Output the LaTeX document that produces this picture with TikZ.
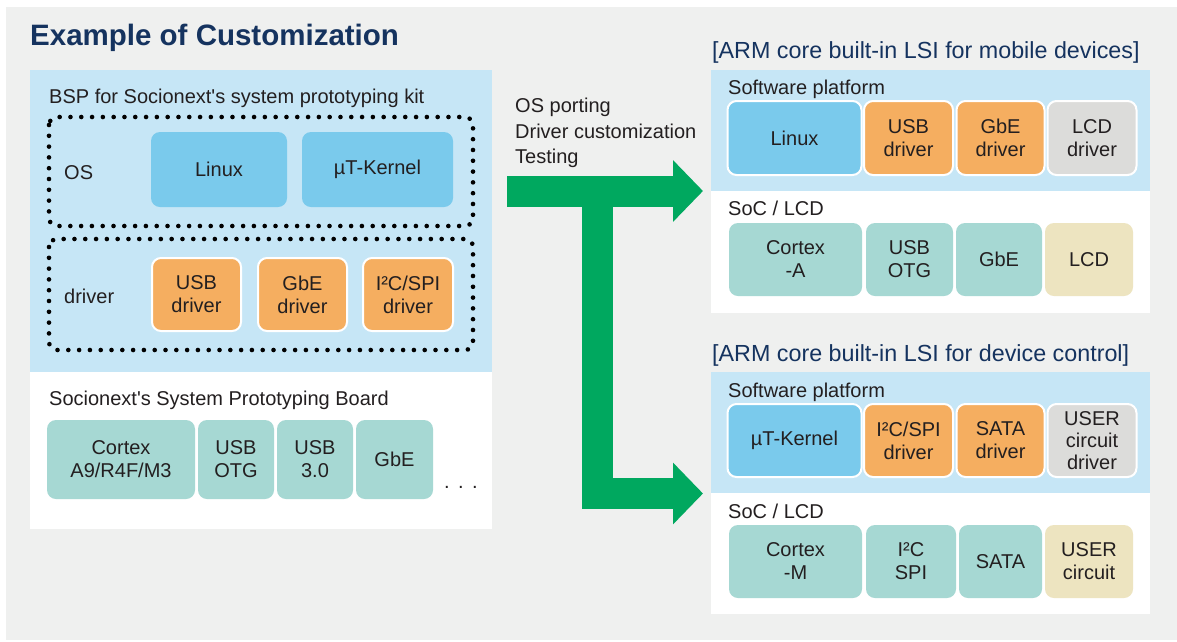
\documentclass[tikz,border=0pt]{standalone}
\usepackage{fontspec}
\setmainfont{Liberation Sans}
\usetikzlibrary{arrows.meta}
\definecolor{bggrey}{HTML}{EFF0EF}
\definecolor{lblue}{HTML}{C6E6F6}
\definecolor{sky}{HTML}{7ACAEC}
\definecolor{orng}{HTML}{F5AE60}
\definecolor{lgrey}{HTML}{DCDCDA}
\definecolor{tealb}{HTML}{A6D8D3}
\definecolor{cream}{HTML}{EDE4C0}
\definecolor{grn}{HTML}{00A85F}
\definecolor{navy}{HTML}{15335F}
\definecolor{txt}{HTML}{231F20}
\newcommand{\apos}{\textquotesingle}
\begin{document}
\begin{tikzpicture}[x=1pt,y=-1pt,
  lbl/.style={anchor=base west, inner sep=0pt, text=txt, font=\fontsize{20}{24}\selectfont},
  ttl/.style={anchor=base west, inner sep=0pt, text=navy, font=\fontsize{23.3}{26}\selectfont},
  box/.style={rounded corners=9pt, align=center, inner sep=0pt, text=txt, font=\fontsize{20}{23}\selectfont},
  sw/.style={box, draw=white, line width=2pt},
  hw/.style={box, draw=none},
  dotbox/.style={draw=black, line width=4.6pt, line cap=round, dash pattern=on 0pt off 10.8pt, rounded corners=8pt},
  garrow/.style={draw=grn, line width=31pt, -{Triangle[length=30pt,width=60pt]}},
]
\useasboundingbox (0,0) rectangle (1177,641);
\fill[white] (0,0) rectangle (1177,641);
\fill[bggrey] (6,7) rectangle (1177,640);

% title
\node[anchor=base west, inner sep=0pt, text=navy, font=\fontsize{29.5}{34}\selectfont\bfseries] (title) at (30,45) {Example of Customization};

% left panel
\fill[lblue] (30,70) rectangle (492,372);
\fill[white] (30,372) rectangle (492,529);
\node[lbl] (bsp) at (49,103) {BSP for Socionext\apos s system prototyping kit};
\draw[dotbox] (49,117) rectangle (473,226);
\draw[dotbox] (49,239) rectangle (473,350);
\node[lbl] (os) at (64,179) {OS};
\node[lbl] (drv) at (64,303) {driver};
\node[hw, fill=sky, minimum width=136pt, minimum height=75pt] (lLinux) at (219,169.5) {Linux};
\node[hw, fill=sky, minimum width=151pt, minimum height=75pt] (lKernel) at (377.5,169.5) {µT-Kernel};
\node[sw, fill=orng, minimum width=89pt, minimum height=73pt] (lUSBd) at (196.5,294.5) {USB\\driver};
\node[sw, fill=orng, minimum width=89pt, minimum height=73pt] (lGbEd) at (302.5,294.5) {GbE\\driver};
\node[sw, fill=orng, minimum width=90pt, minimum height=73pt] (lI2Cd) at (408,294.5) {I²C/SPI\\driver};
\node[lbl] (board) at (49,405) {Socionext\apos s System Prototyping Board};
\node[hw, fill=tealb, minimum width=148pt, minimum height=79pt] (lCortex) at (121,459.5) {Cortex\\A9/R4F/M3};
\node[hw, fill=tealb, minimum width=76pt, minimum height=79pt] (lOTG) at (236,459.5) {USB\\OTG};
\node[hw, fill=tealb, minimum width=76pt, minimum height=79pt] (lUSB3) at (315,459.5) {USB\\3.0};
\node[hw, fill=tealb, minimum width=77pt, minimum height=79pt] (lGbE) at (394.5,459.5) {GbE};
\node[lbl] (dots) at (444,488) {.\hspace{8.4pt}.\hspace{8.4pt}.};

% middle text
\node[lbl] (t1) at (515,112) {OS porting};
\node[lbl] (t2) at (515,138) {Driver customization};
\node[lbl] (t3) at (515,163) {Testing};

% right top
\node[ttl] (rt1) at (712,58) {[ARM core built-in LSI for mobile devices]};
\fill[lblue] (711,70) rectangle (1150,191);
\fill[white] (711,191) rectangle (1150,313);
\node[lbl] (sp1) at (728,94) {Software platform};
\node[lbl] (soc1) at (728,215) {SoC / LCD};
\node[sw, fill=sky, minimum width=134pt, minimum height=74pt] (aLinux) at (794.5,138) {Linux};
\node[sw, fill=orng, minimum width=89pt, minimum height=74pt] (aUSBd) at (908.5,138) {USB\\driver};
\node[sw, fill=orng, minimum width=88pt, minimum height=74pt] (aGbEd) at (1000.5,138) {GbE\\driver};
\node[sw, fill=lgrey, minimum width=89pt, minimum height=74pt] (aLCDd) at (1092,138) {LCD\\driver};
\node[hw, fill=tealb, minimum width=133pt, minimum height=73pt] (aCortex) at (795.5,259.5) {Cortex\\-A};
\node[hw, fill=tealb, minimum width=87pt, minimum height=73pt] (aOTG) at (909.5,259.5) {USB\\OTG};
\node[hw, fill=tealb, minimum width=86pt, minimum height=73pt] (aGbE) at (999,259.5) {GbE};
\node[hw, fill=cream, minimum width=88pt, minimum height=73pt] (aLCD) at (1089,259.5) {LCD};

% right bottom
\node[ttl] (rt2) at (712,361) {[ARM core built-in LSI for device control]};
\fill[lblue] (711,372) rectangle (1150,493);
\fill[white] (711,493) rectangle (1150,614);
\node[lbl] (sp2) at (728,397) {Software platform};
\node[lbl] (soc2) at (728,518) {SoC / LCD};
\node[sw, fill=sky, minimum width=134pt, minimum height=73pt] (bKernel) at (794.5,440.5) {µT-Kernel};
\node[sw, fill=orng, minimum width=89pt, minimum height=73pt] (bI2Cd) at (908.5,440.5) {I²C/SPI\\driver};
\node[sw, fill=orng, minimum width=88pt, minimum height=73pt] (bSATAd) at (1000.5,440.5) {SATA\\driver};
\node[sw, fill=lgrey, minimum width=89pt, minimum height=73pt, font=\fontsize{20}{22}\selectfont] (bUSERd) at (1092,440.5) {USER\\circuit\\driver};
\node[hw, fill=tealb, minimum width=133pt, minimum height=73pt] (bCortex) at (795.5,561.5) {Cortex\\-M};
\node[hw, fill=tealb, minimum width=90pt, minimum height=73pt] (bI2C) at (911,561.5) {I²C\\SPI};
\node[hw, fill=tealb, minimum width=83pt, minimum height=73pt] (bSATA) at (1000.5,561.5) {SATA};
\node[hw, fill=cream, minimum width=88pt, minimum height=73pt] (bUSER) at (1089,561.5) {USER\\circuit};

% green arrows
\coordinate (a1s) at (507,191);
\coordinate (a1e) at (703,191);
\coordinate (vtop) at (597.5,191);
\coordinate (vbot) at (597.5,508.5);
\coordinate (a2s) at (582,493.5);
\coordinate (a2e) at (703,493.5);
\draw[garrow] (a1s) -- (a1e);
\draw[draw=grn, line width=31pt] (vtop) -- (vbot);
\draw[garrow] (a2s) -- (a2e);
\end{tikzpicture}
\end{document}
